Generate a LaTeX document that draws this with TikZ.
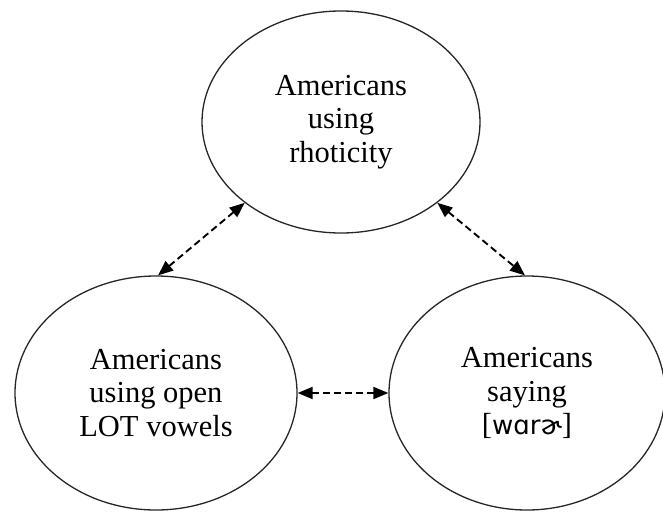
\documentclass[tikz,border=0pt]{standalone}
\usepackage{fontspec}
\setmainfont{Liberation Serif}
\newfontfamily\ipafont{DejaVu Sans}
\usetikzlibrary{shapes.geometric,arrows.meta}
\begin{document}
\begin{tikzpicture}[x=1pt,y=-1pt,
  group/.style={draw=black!85, line width=1.3pt, ellipse, inner sep=0pt,
    align=center, font=\fontsize{30.5}{33.5}\selectfont},
  link/.style={line width=1.9pt, dash pattern=on 7pt off 4pt,
    {Triangle[length=15pt,width=12pt]}-{Triangle[length=15pt,width=12pt]}}]
  \useasboundingbox (0,0) rectangle (663,511);
  % the three groups of speakers
  \node[group, minimum width=278pt, minimum height=222pt] (rho) at (341,122)
    {Americans\\using\\rhoticity};
  \node[group, minimum width=282pt, minimum height=234pt] (lot) at (156,393)
    {Americans\\using open\\LOT vowels};
  \node[group, minimum width=276pt, minimum height=234pt] (war) at (527,393)
    {Americans\\saying\\{[}{\ipafont\fontsize{26}{33.5}\selectfont wɑrɚ}{]}};
  % two-way relations between them
  \draw[link] (rho.220) -- (lot.89);
  \draw[link] (rho.320) -- (war.91);
  \draw[link] (lot.0) -- (war.180);
\end{tikzpicture}
\end{document}
